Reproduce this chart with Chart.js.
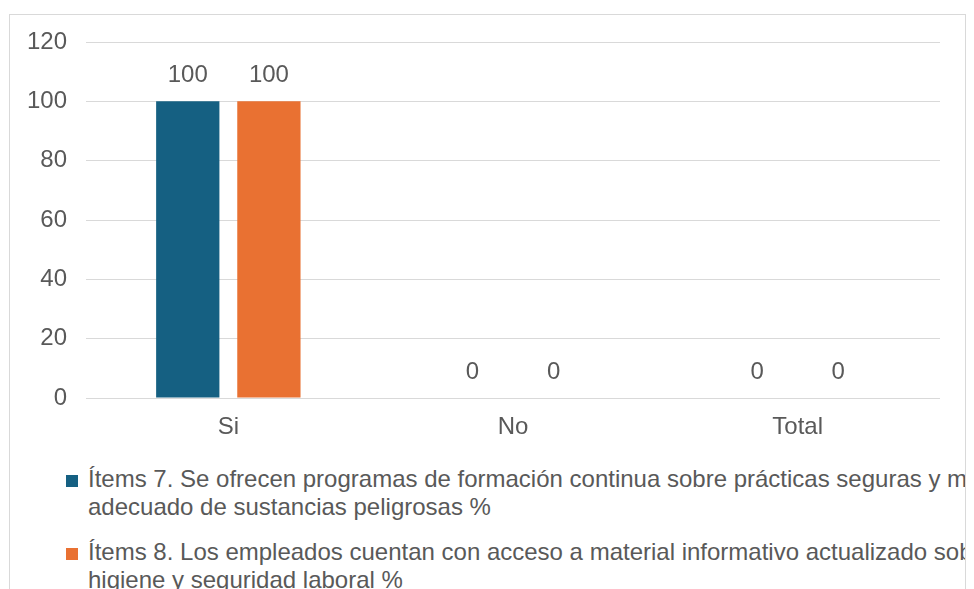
<!DOCTYPE html>
<html>
<head>
<meta charset="utf-8">
<script src="https://cdn.jsdelivr.net/npm/chart.js@4"></script>
<style>
  body { margin: 0; background: #fff; font-family: "Liberation Sans", Arial, sans-serif; }
  #box {
    position: absolute; left: 9px; top: 14px; width: 955px; height: 600px;
    border: 1px solid #d9d9d9; overflow: hidden; background: #fff;
  }
  #wrap { position: absolute; left: 0; top: 0; width: 955px; height: 433px; }
  #legend { position: absolute; left: 56px; top: 450px; width: 1100px; color: #595959; font-size: 24px; }
  .item { position: relative; padding-left: 22px; line-height: 28px; margin-bottom: 17px; width: 945px; }
  .sw { position: absolute; left: 0; top: 10px; width: 12px; height: 12px; }
</style>
</head>
<body>
<div id="box">
  <div id="wrap"><canvas id="chart"></canvas></div>
  <div id="legend"></div>
</div>
<script>
// DATA
let categories = ["Si", "No", "Total"];
let item7 = [100, 0, 0];
let item8 = [100, 0, 0];
let seriesNames = [
    "Ítems 7. Se ofrecen programas de formación continua sobre prácticas seguras y manejo adecuado de sustancias peligrosas %",
    "Ítems 8. Los empleados cuentan con acceso a material informativo actualizado sobre higiene y seguridad laboral %"
];
let yTicks = [0, 20, 40, 60, 80, 100, 120];

let colors = ["#156082", "#e97132"];
let textColor = "#595959";
let fontFamily = "'Liberation Sans', Arial, sans-serif";

// value labels above bars
let valueLabels = {
    id: "valueLabels",
    afterDatasetsDraw(chart) {
        let ctx = chart.ctx;
        ctx.save();
        ctx.font = "24px " + fontFamily;
        ctx.fillStyle = textColor;
        ctx.textAlign = "center";
        ctx.textBaseline = "alphabetic";
        chart.data.datasets.forEach((ds, i) => {
            chart.getDatasetMeta(i).data.forEach((bar, j) => {
                ctx.fillText(String(ds.data[j]), bar.x, bar.y - 19);
            });
        });
        ctx.restore();
    }
};

let ctx = document.getElementById("chart");

let chart = new Chart(ctx, {
    type: "bar",
    data: {
        labels: categories,
        datasets: [
            { label: seriesNames[0], data: item7, backgroundColor: colors[0] },
            { label: seriesNames[1], data: item8, backgroundColor: colors[1] }
        ]
    },
    options: {
        responsive: true,
        maintainAspectRatio: false,
        animation: false,
        categoryPercentage: 0.57,
        barPercentage: 0.78,
        layout: { padding: { left: 0, right: 25, top: 27, bottom: 0 } },
        plugins: {
            legend: { display: false },
            tooltip: { enabled: false }
        },
        scales: {
            x: {
                afterFit: s => { s.height = 50; },
                grid: { display: false },
                border: { display: false },
                ticks: { color: textColor, font: { size: 24, family: fontFamily }, padding: 7 }
            },
            y: {
                min: 0,
                max: 120,
                afterBuildTicks: s => { s.ticks = yTicks.map(v => ({ value: v })); },
                afterFit: s => {
                    s.width = 76;
                    s.paddingTop = 0;
                    s.paddingBottom = 0;
                },
                grid: { color: "#d9d9d9", drawTicks: false, lineWidth: 1 },
                border: { display: false },
                ticks: { color: textColor, font: { size: 24, family: fontFamily }, padding: 19 }
            }
        }
    },
    plugins: [valueLabels]
});

// LEGEND
let legend = document.getElementById("legend");
seriesNames.forEach((name, i) => {
    let div = document.createElement("div");
    div.className = "item";
    let sw = document.createElement("span");
    sw.className = "sw";
    sw.style.background = colors[i];
    div.appendChild(sw);
    div.appendChild(document.createTextNode(name));
    legend.appendChild(div);
});
</script>
</body>
</html>
